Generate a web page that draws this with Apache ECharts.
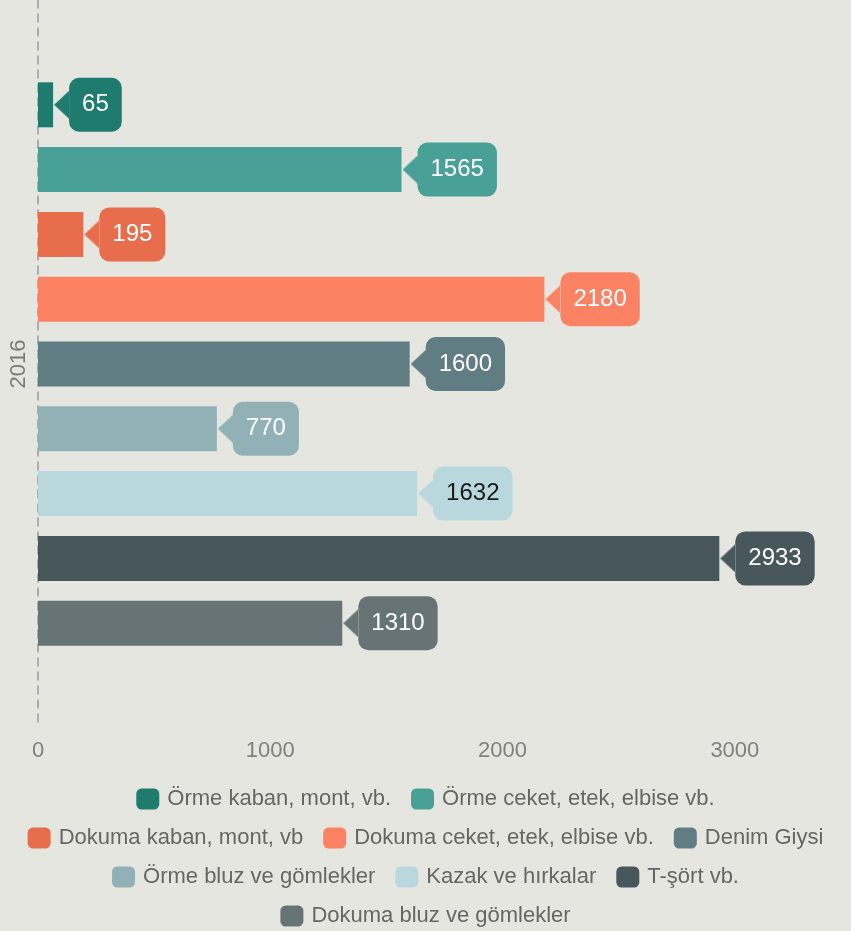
<!DOCTYPE html>
<html>
<head>
<meta charset="utf-8">
<script src="https://cdn.jsdelivr.net/npm/echarts@6/dist/echarts.min.js"></script>
<style>
html,body{margin:0;padding:0;background:#e6e6e1;}
#chart{width:851px;height:931px;}
</style>
</head>
<body>
<div id="chart"></div>
<script>
const categories = ['2016'];
const seriesNames = [
  'Örme kaban, mont, vb.',
  'Örme ceket, etek, elbise vb.',
  'Dokuma kaban, mont, vb',
  'Dokuma ceket, etek, elbise vb.',
  'Denim Giysi',
  'Örme bluz ve gömlekler',
  'Kazak ve hırkalar',
  'T-şört vb.',
  'Dokuma bluz ve gömlekler'
];
const seriesValues = [65, 1565, 195, 2180, 1600, 770, 1632, 2933, 1310];
const xTicks = [0, 1000, 2000, 3000];
const legendRows = [[0, 1], [2, 3, 4], [5, 6, 7], [8]];
const colors = ['#1f7b6e', '#49a096', '#e86d4d', '#fb8263', '#5f7d82', '#92b1b7', '#b9d8de', '#47575c', '#667476'];
const labelTextColors = ['#ffffff', '#ffffff', '#ffffff', '#ffffff', '#ffffff', '#ffffff', '#1a1a1a', '#ffffff', '#ffffff'];

const FONT = '"Liberation Sans", Arial, sans-serif';

function arrowCanvas(color) {
  const c = document.createElement('canvas');
  c.width = 15; c.height = 28;
  const ctx = c.getContext('2d');
  ctx.fillStyle = color;
  ctx.beginPath();
  ctx.moveTo(15, 0);
  ctx.lineTo(0, 14);
  ctx.lineTo(15, 28);
  ctx.closePath();
  ctx.fill();
  return c;
}

const series = seriesNames.map((name, i) => ({
  name: name,
  type: 'bar',
  data: [seriesValues[i]],
  barWidth: 45,
  barGap: '44%',
  itemStyle: { color: colors[i] },
  label: {
    show: true,
    position: 'right',
    distance: 1,
    formatter: (p) => '{a|}{b|' + p.value + '}',
    rich: {
      a: { width: 15, height: 28, backgroundColor: { image: arrowCanvas(colors[i]) } },
      b: {
        backgroundColor: colors[i],
        borderRadius: 10,
        padding: [15, 13, 15, 13],
        color: labelTextColors[i],
        fontSize: 24,
        lineHeight: 25,
        fontFamily: FONT
      }
    }
  }
}));

const legends = legendRows.map((row, r) => ({
  left: 'center',
  top: 783 + r * 39,
  itemWidth: 23,
  itemHeight: 21,
  itemGap: 20,
  icon: 'roundRect',
  textStyle: { color: '#666666', fontSize: 22, lineHeight: 21, fontFamily: FONT, padding: [0, 0, 0, 3] },
  data: row.map((k) => seriesNames[k])
}));

const chart = echarts.init(document.getElementById('chart'), null, { renderer: 'canvas' });
chart.setOption({
  backgroundColor: '#e6e6e1',
  animation: false,
  textStyle: { fontFamily: FONT },
  grid: { left: 38, top: -16, width: 815.5, height: 744, containLabel: false },
  xAxis: {
    type: 'value',
    min: 0,
    max: 3500,
    interval: 1000,
    axisLine: { show: false },
    axisTick: { show: false },
    splitLine: { show: false },
    axisLabel: {
      showMaxLabel: false,
      color: '#808080',
      fontSize: 22,
      margin: 12,
      fontFamily: FONT,
      formatter: (v) => (xTicks.indexOf(v) >= 0 ? String(v) : '')
    }
  },
  yAxis: {
    type: 'category',
    data: categories,
    inverse: true,
    axisLine: { show: true, lineStyle: { color: '#9a9a9a', width: 1.5, type: [8, 6] } },
    axisTick: { show: false },
    axisLabel: { rotate: 90, color: '#7a7a7a', fontSize: 22, margin: 8, fontFamily: FONT }
  },
  legend: legends,
  series: series
});
</script>
</body>
</html>
